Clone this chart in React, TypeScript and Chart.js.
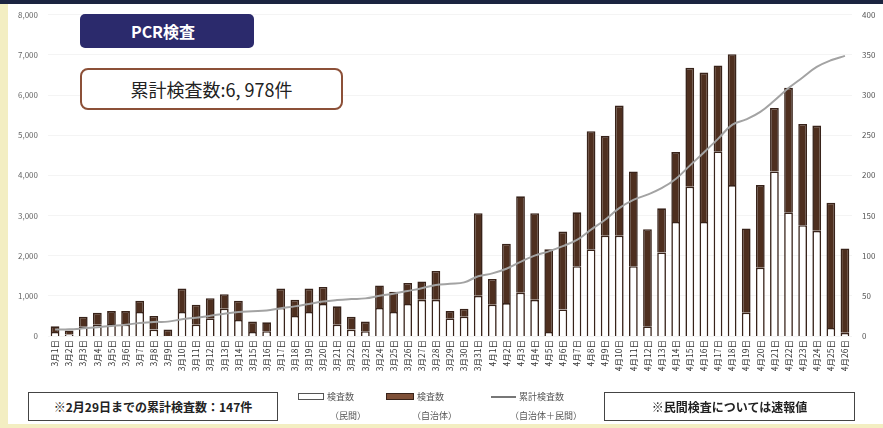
import React, { useEffect, useRef } from "react";
import { Chart, registerables } from "chart.js";

Chart.register(...registerables);

const categories = [
  "3月1日", "3月2日", "3月3日", "3月4日", "3月5日", "3月6日", "3月7日", "3月8日", "3月9日", "3月10日",
  "3月11日", "3月12日", "3月13日", "3月14日", "3月15日", "3月16日", "3月17日", "3月18日", "3月19日", "3月20日",
  "3月21日", "3月22日", "3月23日", "3月24日", "3月25日", "3月26日", "3月27日", "3月28日", "3月29日", "3月30日",
  "3月31日", "4月1日", "4月2日", "4月3日", "4月4日", "4月5日", "4月6日", "4月7日", "4月8日", "4月9日",
  "4月10日", "4月11日", "4月12日", "4月13日", "4月14日", "4月15日", "4月16日", "4月17日", "4月18日", "4月19日",
  "4月20日", "4月21日", "4月22日", "4月23日", "4月24日", "4月25日", "4月26日",
];

// 検査数（民間）
const minkan = [
  5, 2, 12, 14, 15, 14, 30, 8, 0, 30,
  14, 22, 34, 20, 5, 6, 35, 25, 30, 40,
  14, 8, 6, 35, 30, 40, 45, 45, 22, 24,
  50, 39, 41, 54, 45, 5, 33, 87, 108, 125,
  125, 87, 12, 104, 142, 186, 142, 230, 188, 29,
  85, 205, 154, 138, 131, 10, 4,
];

// 検査数（自治体）
const jichitai = [
  7, 5, 12, 15, 16, 17, 14, 17, 8, 29,
  25, 25, 18, 24, 13, 11, 24, 20, 29, 21,
  23, 16, 12, 28, 25, 26, 23, 36, 9, 10,
  103, 32, 74, 120, 108, 103, 97, 67, 147, 124,
  162, 118, 121, 55, 87, 148, 186, 107, 163, 105,
  103, 79, 155, 126, 131, 156, 105,
];

// 2月29日までの累計検査数
const priorTotal = 147;

const leftTickMax = 8000;
const leftTickStep = 1000;
const rightTickMax = 400;
const rightTickStep = 50;

const FONT = "'Noto Sans CJK JP', 'Noto Sans', sans-serif";

export default function App() {
  const ref = useRef<HTMLCanvasElement | null>(null);

  useEffect(() => {
    if (!ref.current) return;
    const cumulative: number[] = [];
    let run = priorTotal;
    for (let i = 0; i < categories.length; i++) {
      run += minkan[i] + jichitai[i];
      cumulative.push(run);
    }
    const chart = new Chart(ref.current, {
      type: "bar",
      data: {
        labels: categories,
        datasets: [
          {
            type: "line",
            label: "累計検査数（自治体＋民間）",
            data: cumulative,
            yAxisID: "yCum",
            borderColor: "#a3a3a3",
            borderWidth: 2,
            pointRadius: 0,
            tension: 0.4,
            order: 0,
          } as any,
          {
            type: "bar",
            label: "検査数（民間）",
            data: minkan,
            yAxisID: "yDaily",
            backgroundColor: "#ffffff",
            borderColor: "#38231a",
            borderWidth: 1.6,
            barPercentage: 0.62,
            categoryPercentage: 1,
            order: 1,
          },
          {
            type: "bar",
            label: "検査数（自治体）",
            data: jichitai,
            yAxisID: "yDaily",
            backgroundColor: "#4e2f1f",
            borderColor: "#38231a",
            borderWidth: 1.6,
            barPercentage: 0.62,
            categoryPercentage: 1,
            order: 1,
          },
        ],
      },
      options: {
        animation: false,
        responsive: false,
        maintainAspectRatio: false,
        layout: { padding: { top: 13, bottom: 42, left: 0, right: 0 } },
        plugins: { legend: { display: false }, tooltip: { enabled: false } },
        scales: {
          x: {
            stacked: true,
            grid: { display: false, drawTicks: false },
            border: { display: false },
            ticks: {
              autoSkip: false,
              maxRotation: 90,
              minRotation: 90,
              padding: 4,
              color: "#333",
              font: { family: FONT, size: 8.5 },
            },
            afterFit: (s: any) => {
              s.height = 50;
            },
          },
          yCum: {
            position: "left",
            min: 0,
            max: leftTickMax,
            ticks: {
              stepSize: leftTickStep,
              padding: 10,
              color: "#666",
              font: { family: FONT, size: 8 },
              callback: (v: any) => Number(v).toLocaleString("en-US"),
            },
            grid: { color: "rgba(0,0,0,0.045)", drawTicks: false },
            border: { display: false },
            afterFit: (s: any) => {
              s.width = 48;
            },
          },
          yDaily: {
            position: "right",
            stacked: true,
            min: 0,
            max: rightTickMax,
            ticks: {
              stepSize: rightTickStep,
              padding: 10,
              color: "#555",
              font: { family: FONT, size: 8 },
            },
            grid: { display: false, drawTicks: false },
            border: { display: false },
            afterFit: (s: any) => {
              s.width = 31;
            },
          },
        },
      },
    });
    return () => chart.destroy();
  }, []);

  const legendText: React.CSSProperties = {
    position: "absolute",
    fontFamily: FONT,
    fontSize: 9,
    color: "#555",
    lineHeight: "11px",
    whiteSpace: "nowrap",
  };

  return (
    <div
      style={{
        position: "fixed",
        left: 0,
        top: 0,
        width: 883,
        height: 428,
        background: "#ffffff",
        overflow: "hidden",
        fontFamily: FONT,
      }}
    >
      <div style={{ position: "absolute", left: 0, top: 0, width: 8, height: 428, background: "#f3eec2" }} />
      <div style={{ position: "absolute", left: 0, top: 424, width: 883, height: 4, background: "#f3eec2" }} />
      <div style={{ position: "absolute", left: 0, top: 0, width: 883, height: 4, background: "#1b2440" }} />
      <canvas
        ref={ref}
        width={883}
        height={428}
        style={{ position: "absolute", left: 0, top: 0, width: 883, height: 428 }}
      />
      <div
        style={{
          position: "absolute",
          left: 80,
          top: 14,
          width: 174,
          height: 34,
          background: "#2b2a6c",
          borderRadius: 5,
          color: "#fff",
          fontWeight: 700,
          fontSize: 16,
          display: "flex",
          alignItems: "center",
          justifyContent: "center",
          boxSizing: "border-box",
          paddingRight: 8,
        }}
      >
        PCR検査
      </div>
      <div
        style={{
          position: "absolute",
          left: 80,
          top: 68,
          width: 263,
          height: 42,
          border: "2px solid #8c5038",
          borderRadius: 8,
          background: "#fff",
          color: "#222",
          fontSize: 18,
          display: "flex",
          alignItems: "center",
          justifyContent: "center",
          boxSizing: "border-box",
        }}
      >
        累計検査数:6, 978件
      </div>

      <div
        style={{
          position: "absolute",
          left: 28,
          top: 392,
          width: 250,
          height: 29,
          border: "1.5px solid #444",
          background: "#fff",
          color: "#222",
          fontSize: 12,
          fontWeight: 700,
          display: "flex",
          alignItems: "center",
          justifyContent: "center",
          boxSizing: "border-box",
        }}
      >
        ※2月29日までの累計検査数：147件
      </div>
      <div
        style={{
          position: "absolute",
          left: 604,
          top: 392,
          width: 251,
          height: 29,
          border: "1.5px solid #444",
          background: "#fff",
          color: "#222",
          fontSize: 12,
          fontWeight: 700,
          display: "flex",
          alignItems: "center",
          justifyContent: "center",
          boxSizing: "border-box",
        }}
      >
        ※民間検査については速報値
      </div>

      <div style={{ position: "absolute", left: 298, top: 393, width: 26, height: 7, border: "1.5px solid #555", background: "#fff", boxSizing: "border-box" }} />
      <div style={{ ...legendText, left: 327, top: 391 }}>検査数</div>
      <div style={{ ...legendText, left: 330, top: 410 }}>（民間）</div>

      <div style={{ position: "absolute", left: 386, top: 393, width: 28, height: 7, border: "1.5px solid #38231a", background: "#7e5038", boxSizing: "border-box" }} />
      <div style={{ ...legendText, left: 417, top: 391 }}>検査数</div>
      <div style={{ ...legendText, left: 412, top: 410 }}>（自治体）</div>

      <div style={{ position: "absolute", left: 491, top: 396, width: 25, height: 2, background: "#777" }} />
      <div style={{ ...legendText, left: 519, top: 391 }}>累計検査数</div>
      <div style={{ ...legendText, left: 510, top: 410 }}>（自治体＋民間）</div>
    </div>
  );
}
